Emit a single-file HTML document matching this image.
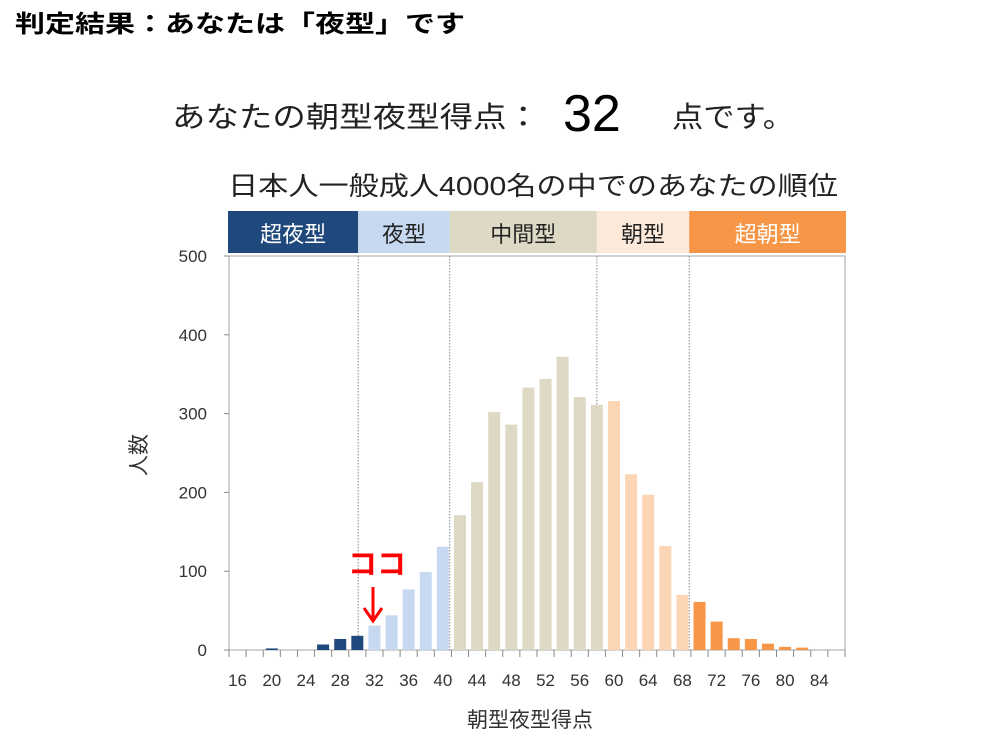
<!DOCTYPE html>
<html><head><meta charset="utf-8">
<style>
html,body{margin:0;padding:0;background:#fff;width:991px;height:748px;overflow:hidden;}
svg text{font-family:"Liberation Sans","Noto Sans CJK JP",sans-serif;}
</style></head>
<body>
<svg id="chart" width="991" height="748" viewBox="0 0 991 748" xmlns="http://www.w3.org/2000/svg">
  <text x="15" y="32" font-size="24" font-weight="bold" fill="#000" textLength="450" lengthAdjust="spacingAndGlyphs">判定結果：あなたは「夜型」です</text>
  <text x="172" y="127" font-size="29" fill="#222" textLength="368" lengthAdjust="spacingAndGlyphs">あなたの朝型夜型得点：</text>
  <text x="563" y="131" font-size="52" fill="#000">32</text>
  <text x="672" y="127" font-size="29" fill="#222" textLength="122" lengthAdjust="spacingAndGlyphs">点です。</text>
  <text x="228" y="195" font-size="26" fill="#222" textLength="610" lengthAdjust="spacingAndGlyphs">日本人一般成人4000名の中でのあなたの順位</text>
  <g id="bands"></g>
  <rect x="229" y="256" width="616" height="394" fill="none" stroke="#a6a6a6" stroke-width="1"/>
  <g id="dividers"></g>
  <g id="bars"></g>
  <g id="axes"></g>
  <text x="530" y="727" font-size="21" fill="#333" text-anchor="middle">朝型夜型得点</text>
  <text x="0" y="0" font-size="21" fill="#333" text-anchor="middle" transform="translate(146,455) rotate(-90)">人数</text>
  <text x="377" y="574" font-size="29" fill="#ff0000" text-anchor="middle" font-weight="bold">ココ</text>
  <g>
    <line x1="373" y1="587" x2="373" y2="618" stroke="#ff0000" stroke-width="3"/>
    <polyline points="364,608 373,621 382,608" fill="none" stroke="#ff0000" stroke-width="3"/>
  </g>
</svg>
<script>
const scores = [16,18,20,22,24,26,28,30,32,34,36,38,40,42,44,46,48,50,52,54,56,58,60,62,64,66,68,70,72,74,76,78,80,82,84,86];
const counts = [0,0,2,0,0,7,14,18,31,44,77,99,131,171,213,302,286,333,344,372,321,311,316,223,197,132,70,61,36,15,14,8,4,3,0,0];
const yTicks = [0,100,200,300,400,500];
const xTickLabels = [16,20,24,28,32,36,40,44,48,52,56,60,64,68,72,76,80,84];
const bandNames = ["超夜型","夜型","中間型","朝型","超朝型"];
const bandBounds = [13.3,30.1,40.8,58,68.8,88];
const dividerValues = [30.1,40.8,58,68.8];

const svgNS = "http://www.w3.org/2000/svg";
const bandFill = ["#1f497d","#c6d9f1","#ddd9c4","#fde9d9","#f79646"];
const bandText = ["#fff","#222","#222","#222","#fff"];
function barColor(s){ if(s<=30) return "#1f497d"; if(s<=40) return "#c6d9f1"; if(s<=58) return "#ddd9c4"; if(s<=68) return "#fcd5b5"; return "#f79646"; }
const step = 17.11;
function x(v){ return 229 + step*((v-16)/2 + 0.5); }
function y(v){ return 650 - v*394/500; }
function mk(tag, attrs, parent){ const e=document.createElementNS(svgNS,tag); for(const k in attrs) e.setAttribute(k,attrs[k]); parent.appendChild(e); return e; }

const bands=document.getElementById('bands');
for(let i=0;i<bandNames.length;i++){
  const x0=Math.max(228,x(bandBounds[i])), x1=Math.min(846,x(bandBounds[i+1]));
  const r=mk('rect',{x:x0,y:211,width:x1-x0,height:42,fill:bandFill[i]},bands);
  
  
  const t=mk('text',{x:(x0+x1)/2,y:242,'font-size':22,fill:bandText[i],'text-anchor':'middle'},bands);
  t.textContent=bandNames[i];
  
  
}
const div=document.getElementById('dividers');
dividerValues.forEach(v=>{
  const l=mk('line',{x1:x(v),x2:x(v),y1:256,y2:650,stroke:'#888','stroke-dasharray':'1.5,1.5','stroke-width':1},div);
  
  
});
const bars=document.getElementById('bars');
scores.forEach((s,i)=>{
  if(!counts[i]) return;
  const r=mk('rect',{x:x(s)-6,y:y(counts[i]),width:12,height:650-y(counts[i]),fill:barColor(s)},bars);
  
  
});
const ax=document.getElementById('axes');
yTicks.forEach(v=>{
  mk('line',{x1:224,x2:229,y1:y(v),y2:y(v),stroke:'#888'},ax);
  const t=mk('text',{x:207,y:y(v)+6,'font-size':17,fill:'#333','text-anchor':'end'},ax);
  t.textContent=v;
  
  
});
for(let i=0;i<=scores.length;i++){
  const xx=229+i*step;
  mk('line',{x1:xx,x2:xx,y1:650,y2:657,stroke:'#888'},ax);
}
xTickLabels.forEach(v=>{
  const t=mk('text',{x:x(v),y:686,'font-size':17,fill:'#333','text-anchor':'middle'},ax);
  t.textContent=v;
  
  
});
</script>
</body></html>
